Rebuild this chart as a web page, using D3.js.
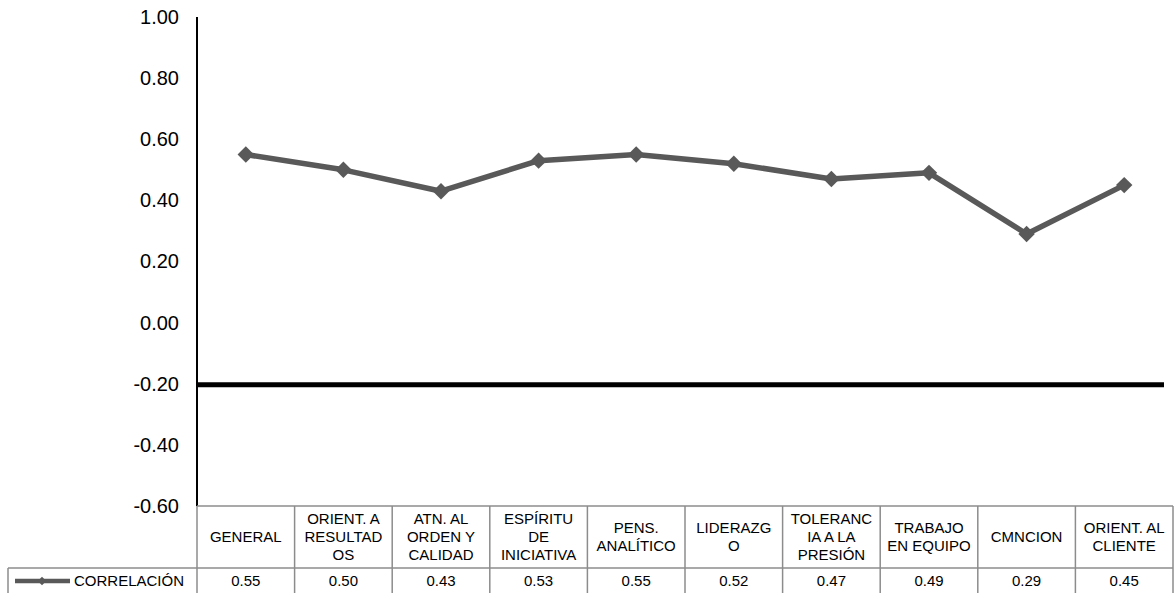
<!DOCTYPE html>
<html>
<head>
<meta charset="utf-8">
<script src="https://cdn.jsdelivr.net/npm/d3@7"></script>
<style>
  html, body { margin: 0; padding: 0; background: #fff; }
  svg { display: block; font-family: "Liberation Sans", Arial, sans-serif; }
</style>
</head>
<body>
<svg id="chart" width="1175" height="593"></svg>
<script>
// Competency labels (line breaks as wrapped in the data table header)
const categories = [
  "GENERAL",
  "ORIENT. A\nRESULTAD\nOS",
  "ATN. AL\nORDEN Y\nCALIDAD",
  "ESPÍRITU\nDE\nINICIATIVA",
  "PENS.\nANALÍTICO",
  "LIDERAZG\nO",
  "TOLERANC\nIA A LA\nPRESIÓN",
  "TRABAJO\nEN EQUIPO",
  "CMNCION",
  "ORIENT. AL\nCLIENTE"
];
const seriesName = "CORRELACIÓN";
const correlation = [0.55, 0.50, 0.43, 0.53, 0.55, 0.52, 0.47, 0.49, 0.29, 0.45];
const yTicks = [1.0, 0.8, 0.6, 0.4, 0.2, 0.0, -0.2, -0.4, -0.6];
const baseValue = -0.2;

(function draw() {
  const svg = d3.select("#chart");
  const plotLeft = 197, tableRight = 1173, plotTop = 17, plotBottom = 506;
  const plotRight = 1164;
  const headerBottom = 568;
  const tableBottom = 593;
  const legendLeft = 8;

  const x = d3.scaleBand().domain(categories).range([plotLeft, tableRight]).padding(0);
  const y = d3.scaleLinear().domain([-0.6, 1.0]).range([plotBottom, plotTop]);

  const lineColor = "#595959";
  const gridColor = "#8c8c8c";
  // two decimals with a plain hyphen for negatives
  const fmt = d => d3.format(".2f")(d).replace("\u2212", "-");

  // Y axis labels (no tick marks)
  const yAxis = d3.axisLeft(y).tickValues(yTicks).tickFormat(fmt).tickSize(0).tickPadding(18);
  const yg = svg.append("g").attr("transform", `translate(${plotLeft},0)`).call(yAxis);
  yg.select(".domain").remove();
  yg.selectAll("text").attr("font-size", 20).attr("fill", "#000")
    .attr("font-family", "Liberation Sans, Arial, sans-serif");

  // Vertical axis line
  svg.append("line")
    .attr("x1", plotLeft).attr("x2", plotLeft).attr("y1", plotTop).attr("y2", plotBottom)
    .attr("stroke", "#000").attr("stroke-width", 2);

  // Category axis crossing at -0.20
  svg.append("line")
    .attr("x1", plotLeft - 1).attr("x2", plotRight)
    .attr("y1", y(baseValue) + 1).attr("y2", y(baseValue) + 1)
    .attr("stroke", "#000").attr("stroke-width", 5);

  // Series line and markers
  const data = categories.map((c, i) => ({ c, v: correlation[i] }));
  const cx = d => x(d.c) + x.bandwidth() / 2;
  const line = d3.line().x(cx).y(d => y(d.v));
  svg.append("path").datum(data)
    .attr("d", line).attr("fill", "none")
    .attr("stroke", lineColor).attr("stroke-width", 5.5).attr("stroke-linejoin", "round");

  const diamond = d3.symbol().type(d3.symbolSquare).size(135);
  svg.selectAll(".mk").data(data).join("path")
    .attr("class", "mk")
    .attr("d", diamond)
    .attr("transform", d => `translate(${cx(d)},${y(d.v)}) rotate(45)`)
    .attr("fill", lineColor);

  // Data table grid
  const grid = svg.append("g").attr("stroke", gridColor).attr("stroke-width", 1.5).attr("fill", "none");
  grid.append("line").attr("x1", plotLeft).attr("x2", tableRight).attr("y1", plotBottom).attr("y2", plotBottom);
  grid.append("line").attr("x1", legendLeft).attr("x2", tableRight).attr("y1", headerBottom).attr("y2", headerBottom);
  grid.append("line").attr("x1", legendLeft).attr("x2", legendLeft).attr("y1", headerBottom).attr("y2", tableBottom);
  const edges = categories.map(c => x(c)).concat([tableRight]);
  grid.selectAll(".vl").data(edges).join("line")
    .attr("x1", d => d).attr("x2", d => d)
    .attr("y1", plotBottom).attr("y2", tableBottom);

  // Header text
  const lh = 18;
  svg.selectAll(".hdr").data(categories).join("text")
    .attr("class", "hdr")
    .attr("text-anchor", "middle")
    .attr("font-size", 15).attr("fill", "#000")
    .each(function (d) {
      const lines = d.split("\n");
      const px = x(d) + x.bandwidth() / 2;
      const py = (plotBottom + headerBottom) / 2;
      const t = d3.select(this);
      lines.forEach((ln, k) => {
        t.append("tspan")
          .attr("x", px)
          .attr("y", py + (k - (lines.length - 1) / 2) * lh)
          .attr("dy", "0.36em")
          .text(ln);
      });
    });

  // Values row
  const rowY = (headerBottom + tableBottom) / 2 + 0.5;
  svg.selectAll(".val").data(data).join("text")
    .attr("class", "val")
    .attr("x", cx)
    .attr("y", rowY).attr("dy", "0.36em")
    .attr("text-anchor", "middle").attr("font-size", 15).attr("fill", "#000")
    .text(d => fmt(d.v));

  // Legend key in the first cell
  svg.append("line")
    .attr("x1", 15).attr("x2", 70).attr("y1", rowY).attr("y2", rowY)
    .attr("stroke", lineColor).attr("stroke-width", 4.5);
  svg.append("path")
    .attr("d", d3.symbol().type(d3.symbolSquare).size(36))
    .attr("transform", `translate(42,${rowY}) rotate(45)`)
    .attr("fill", lineColor);
  svg.append("text")
    .attr("x", 74).attr("y", rowY).attr("dy", "0.36em")
    .attr("font-size", 15).attr("fill", "#000")
    .text(seriesName);
})();
</script>
</body>
</html>
